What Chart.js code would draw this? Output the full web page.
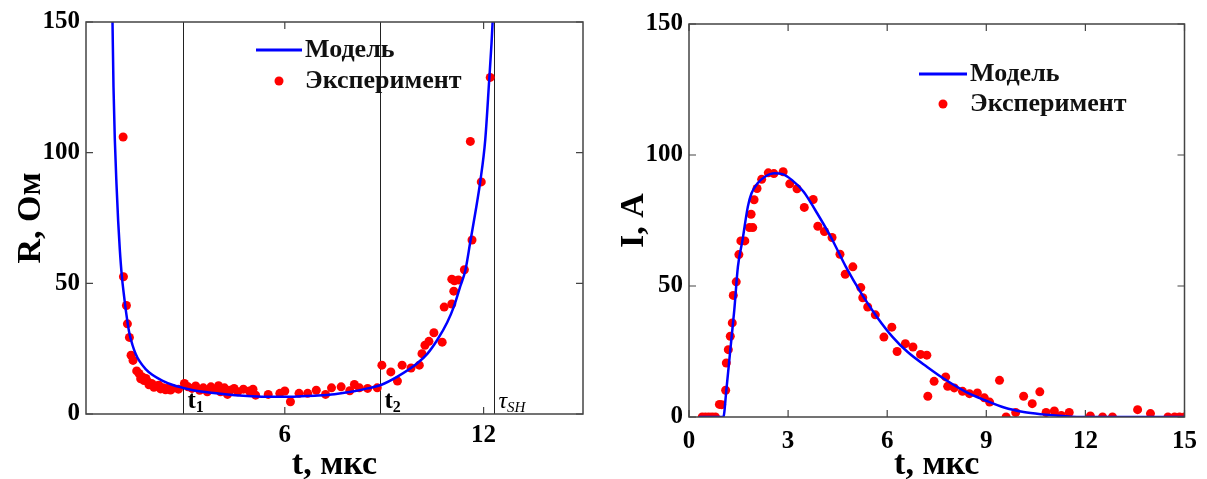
<!DOCTYPE html>
<html>
<head>
<meta charset="UTF-8">
<title>R(t), I(t)</title>
<script src="https://cdn.jsdelivr.net/npm/chart.js@4.4.1/dist/chart.umd.min.js"></script>
<style>
  body { margin:0; background:#fff; }
  .wrap { position:absolute; top:0; }
</style>
</head>
<body>
<div class="wrap" style="left:0"><canvas id="chartR" width="603" height="479"></canvas></div>
<div class="wrap" style="left:603px"><canvas id="chartI" width="604" height="479"></canvas></div>

<script>
// ---- левый график: сопротивление R(t) ----
const rModelT = [0.80,0.83,0.87,0.92,0.97,1.02,1.08,1.15,1.22,1.3,1.4,1.5,1.6,1.8,2.0,2.3,2.6,2.9,3.2,3.6,4.0,4.5,5.0,5.5,6.0,6.5,7.0,7.5,8.0,8.5,8.9,9.4,10.0,10.3,10.6,10.9,11.1,11.3,11.45,11.6,11.75,11.9,12.05,12.17,12.24,12.28];
const rModelR = [150,125,105,88,74,63,53,45,38,31.5,26.5,23,20.5,17.2,15,12.8,11.2,10.1,9.2,8.4,7.8,7.2,6.8,6.6,6.6,6.8,7.1,7.6,8.5,9.8,11.1,14.3,19.4,23,28.3,35,41,49,55,66,77,89,105,128,142,152];

const rExpT = [1.12,1.13,1.22,1.25,1.31,1.36,1.42,1.53,1.6,1.65,1.7,1.75,1.81,1.87,1.9,1.98,2.05,2.1,2.2,2.25,2.33,2.4,2.45,2.55,2.62,2.79,2.97,3.08,3.2,3.31,3.43,3.54,3.66,3.77,3.89,4.0,4.06,4.18,4.27,4.35,4.47,4.58,4.75,4.93,5.04,5.12,5.5,5.85,6.0,6.17,6.43,6.69,6.95,7.23,7.41,7.7,7.96,8.1,8.25,8.5,8.79,8.93,9.2,9.4,9.54,9.81,10.06,10.14,10.23,10.35,10.5,10.75,10.81,11.04,11.1,11.04,11.12,11.24,11.42,11.65,11.93,11.6,12.2];
const rExpR = [106,52.5,41.5,34.5,29.3,22.5,20.5,16.5,15.5,13.5,14.2,12.8,13.6,12.3,11.2,11.7,10.2,10.8,11,9.6,10,9.3,9.8,9.2,9.8,9.5,11.7,10.4,9.8,10.7,9.1,10,8.5,10.4,9.5,10.8,8.5,10,7.5,9.1,9.8,8.5,9.5,8.8,9.5,7.2,7.5,7.9,8.8,4.7,7.9,7.9,9.1,7.5,10,10.4,8.9,11.3,10,9.8,10,18.7,16.1,12.6,18.7,17.6,18.7,23.1,26.3,27.8,31.1,27.5,40.9,42.1,47,51.6,51,51.3,55.2,66.6,88.8,104.3,128.8];

const rTicksX = [6, 12];
const rTicksY = [0, 50, 100, 150];
const rMarkers = [2.93, 8.87, 12.31];   // t1, t2, τSH

// ---- правый график: ток I(t) ----
const iModelT = [0.3,1.04,1.13,1.25,1.37,1.48,1.62,1.78,1.89,2.07,2.3,2.59,2.83,3.12,3.47,3.82,4.29,4.75,5.22,5.69,6.16,6.62,7.21,7.79,8.38,8.96,9.54,10.13,10.71,11.3,12.0,15];
const iModelI = [0,0,10.2,25.5,40.7,57.3,67.5,80.2,85.3,89.1,91.7,93,92.7,90.4,86,79,68.8,57.3,47.1,38.2,30.6,24.8,19.1,14,9.6,6.4,3.6,1.9,1,0.4,0,0];

const iExpT = [0.4,0.5,0.6,0.7,0.8,0.92,0.99,1.11,1.13,1.19,1.25,1.31,1.34,1.43,1.51,1.57,1.69,1.83,1.93,1.88,1.97,2.06,2.2,2.4,2.57,2.85,3.05,3.27,3.49,3.76,3.9,4.1,4.33,4.57,4.73,4.96,5.2,5.26,5.41,5.64,5.9,6.14,6.3,6.55,6.78,7.01,7.2,7.23,7.42,7.77,7.83,8.03,8.28,8.49,8.73,8.94,9.1,9.4,9.6,9.89,10.13,10.39,10.62,10.81,11.06,11.27,11.51,12.15,12.52,12.82,13.58,13.97,14.5,14.7,14.85,15.0];
const iExpI = [0,0,0,0,0,4.8,4.7,10.2,20.6,25.7,30.8,35.9,46.4,51.6,62,67.2,67.2,72.3,72.3,77.4,82.9,87.2,90.7,93.2,92.9,93.6,89,87.1,80,83,72.8,70.8,68.5,62.1,54.5,57.3,49.4,45.5,42,39,30.5,34.3,25,28,26.7,23.9,23.6,7.9,13.6,15.3,11.7,11.1,9.8,8.9,9.2,7.3,5.7,14,0,1.7,7.9,5.1,9.6,1.7,2.3,0.6,1.7,0.4,0,0,2.8,1.3,0,0,0,0];

const iTicksX = [0, 3, 6, 9, 12, 15];
const iTicksY = [0, 50, 100, 150];

const labels = ['Модель', 'Эксперимент'];

const SERIF = '"Liberation Serif", "Times New Roman", serif';
const BLUE = '#0000ff';
const RED = '#ff0000';

function pts(xs, ys) { return xs.map((x, i) => ({x: x, y: ys[i]})); }

// рамка вокруг области и короткие засечки внутрь (как в MATLAB)
const framePlugin = {
  id: 'frame',
  afterDraw(chart) {
    const {ctx, chartArea: a, scales} = chart;
    ctx.save();
    ctx.strokeStyle = '#444';
    ctx.lineWidth = 1.5;
    ctx.strokeRect(a.left, a.top, a.right - a.left, a.bottom - a.top);
    ctx.lineWidth = 1.2;
    ctx.beginPath();
    scales.x.ticks.forEach(t => {
      const px = scales.x.getPixelForValue(t.value);
      ctx.moveTo(px, a.bottom); ctx.lineTo(px, a.bottom - 7);
      ctx.moveTo(px, a.top); ctx.lineTo(px, a.top + 7);
    });
    scales.y.ticks.forEach(t => {
      const py = scales.y.getPixelForValue(t.value);
      ctx.moveTo(a.left, py); ctx.lineTo(a.left + 7, py);
      ctx.moveTo(a.right, py); ctx.lineTo(a.right - 7, py);
    });
    ctx.stroke();
    ctx.restore();
  }
};

// вертикальные линии t1, t2, τSH
const markerPlugin = {
  id: 'markers',
  beforeDatasetsDraw(chart, args, opts) {
    if (!opts.values) return;
    const {ctx, chartArea: a, scales} = chart;
    ctx.save();
    ctx.strokeStyle = '#222';
    ctx.lineWidth = 1;
    opts.values.forEach((v, i) => {
      const px = Math.round(scales.x.getPixelForValue(v)) + 0.5;
      ctx.beginPath();
      ctx.moveTo(px, a.top); ctx.lineTo(px, a.bottom);
      ctx.stroke();
      const lab = opts.labels[i];
      ctx.fillStyle = '#000';
      ctx.textBaseline = 'alphabetic';
      ctx.font = lab.italic ? 'italic 24px ' + SERIF : 'bold 25px ' + SERIF;
      ctx.fillText(lab.main, px + 4, a.bottom - 6);
      const w = ctx.measureText(lab.main).width;
      ctx.font = lab.italic ? 'italic 15px ' + SERIF : 'bold 16px ' + SERIF;
      ctx.fillText(lab.sub, px + 4 + w, a.bottom - 2);
    });
    ctx.restore();
  }
};

// легенда внутри области графика
const legendPlugin = {
  id: 'boxLegend',
  afterDraw(chart, args, opts) {
    const {ctx} = chart;
    ctx.save();
    ctx.font = 'bold 26px ' + SERIF;
    ctx.textBaseline = 'middle';
    chart.data.datasets.forEach((ds, i) => {
      const y = opts.y + i * opts.gap;
      if (ds.showLine) {
        ctx.strokeStyle = ds.borderColor;
        ctx.lineWidth = 3;
        ctx.beginPath();
        ctx.moveTo(opts.x, y); ctx.lineTo(opts.x + opts.len, y);
        ctx.stroke();
      } else {
        ctx.fillStyle = ds.backgroundColor;
        ctx.beginPath();
        ctx.arc(opts.x + opts.len / 2, y, 4.5, 0, Math.PI * 2);
        ctx.fill();
      }
      ctx.fillStyle = '#111';
      ctx.fillText(ds.label, opts.x + opts.len + 3, y);
    });
    ctx.restore();
  }
};

function makeChart(id, cfg) {
  return new Chart(document.getElementById(id), {
    type: 'scatter',
    data: {
      datasets: [
        { label: labels[0], data: cfg.model, showLine: true, borderColor: BLUE, borderWidth: 2.5,
          pointRadius: 0, tension: 0.3, cubicInterpolationMode: 'monotone' },
        { label: labels[1], data: cfg.exp, showLine: false, backgroundColor: RED, borderColor: RED,
          pointRadius: 4.5, pointBorderWidth: 0 }
      ]
    },
    options: {
      responsive: false,
      animation: false,
      layout: { padding: { top: cfg.top, right: cfg.right, left: 0, bottom: 0 } },
      plugins: {
        legend: { display: false },
        tooltip: { enabled: false },
        markers: cfg.markers || {},
        boxLegend: cfg.legend
      },
      scales: {
        x: {
          type: 'linear', min: 0, max: 15,
          grid: { display: false, drawTicks: false },
          border: { display: false },
          afterBuildTicks: s => { s.ticks = cfg.ticksX.map(v => ({value: v})); },
          afterFit: s => { s.height = cfg.xHeight; },
          ticks: { color: '#000', padding: cfg.xPad, font: { family: SERIF, size: 25, weight: 'bold' } },
          title: { display: true, text: 't, мкс', color: '#000', padding: 0,
                   font: { family: SERIF, size: 34, weight: 'bold', lineHeight: 0.82 } }
        },
        y: {
          type: 'linear', min: 0, max: 150,
          grid: { display: false, drawTicks: false },
          border: { display: false },
          afterBuildTicks: s => { s.ticks = cfg.ticksY.map(v => ({value: v})); },
          afterFit: s => { s.width = 86; },
          ticks: { color: '#000', padding: 6, font: { family: SERIF, size: 25, weight: 'bold' } },
          title: { display: true, text: cfg.yTitle, color: '#000', padding: { top: 16, bottom: 0 },
                   font: { family: SERIF, size: 34, weight: 'bold', lineHeight: 0.88 } }
        }
      }
    },
    plugins: [markerPlugin, framePlugin, legendPlugin]
  });
}

makeChart('chartR', {
  model: pts(rModelT, rModelR),
  exp: pts(rExpT, rExpR),
  ticksX: rTicksX, ticksY: rTicksY,
  top: 22, right: 20, xHeight: 65, xPad: 7,
  yTitle: 'R, Ом',
  markers: { values: rMarkers, labels: [
    {main: 't', sub: '1'}, {main: 't', sub: '2'}, {main: 'τ', sub: 'SH', italic: true}
  ] },
  legend: { x: 256, y: 50, len: 46, gap: 31 }
});

makeChart('chartI', {
  model: pts(iModelT, iModelI),
  exp: pts(iExpT, iExpI),
  ticksX: iTicksX, ticksY: iTicksY,
  top: 24, right: 19, xHeight: 62, xPad: 10,
  yTitle: 'I, A',
  legend: { x: 316, y: 74, len: 48, gap: 30 }
});
</script>
</body>
</html>
